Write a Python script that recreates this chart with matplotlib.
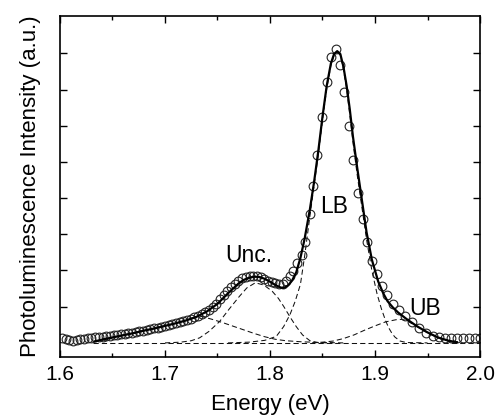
import numpy as np
import matplotlib
matplotlib.use('Agg')
import matplotlib.pyplot as plt
from matplotlib.ticker import MultipleLocator

plt.rcParams['font.family'] = ['Liberation Sans', 'DejaVu Sans']

# measured PL spectrum (open circles)
pl_energy = [1.6020, 1.6055, 1.6090, 1.6125, 1.6160, 1.6195, 1.6230, 1.6265, 1.6300, 1.6335,
             1.6370, 1.6405, 1.6440, 1.6475, 1.6510, 1.6545, 1.6580, 1.6615, 1.6650, 1.6685,
             1.6720, 1.6755, 1.6790, 1.6825, 1.6860, 1.6895, 1.6930, 1.6965, 1.7000, 1.7035,
             1.7070, 1.7105, 1.7140, 1.7175, 1.7210, 1.7245, 1.7280, 1.7315, 1.7350, 1.7385,
             1.7420, 1.7455, 1.7490, 1.7525, 1.7560, 1.7595, 1.7630, 1.7665, 1.7700, 1.7735,
             1.7770, 1.7805, 1.7840, 1.7875, 1.7910, 1.7945, 1.7980, 1.8015, 1.8050, 1.8085,
             1.8120, 1.8155, 1.8190,
             1.8222, 1.8257, 1.8302, 1.8333, 1.8381, 1.8412, 1.8450, 1.8492, 1.8540, 1.8578, 1.8626,
             1.8667, 1.8708, 1.8752, 1.8793, 1.8838, 1.8886, 1.8924, 1.8971, 1.9019, 1.9067, 1.9114,
             1.9171, 1.9229, 1.9286, 1.9352, 1.9419, 1.9486, 1.9552, 1.9610, 1.9667, 1.9724,
             1.9781, 1.9838, 1.9895, 1.9952, 2.0000]
pl_intensity = [0.14, 0.12, 0.07, 0.04, 0.07, 0.10, 0.12, 0.13, 0.14, 0.15,
                0.16, 0.17, 0.19, 0.20, 0.21, 0.22, 0.24, 0.25, 0.27, 0.28,
                0.30, 0.32, 0.34, 0.36, 0.38, 0.40, 0.42, 0.45, 0.47, 0.50,
                0.52, 0.55, 0.58, 0.61, 0.64, 0.67, 0.71, 0.75, 0.80, 0.86,
                0.92, 1.00, 1.08, 1.20, 1.32, 1.44, 1.55, 1.64, 1.72, 1.78,
                1.82, 1.85, 1.86, 1.86, 1.83, 1.77, 1.72, 1.69, 1.66, 1.63,
                1.62, 1.70, 1.84,
                1.98, 2.22, 2.44, 2.80, 3.56, 4.34, 5.19, 6.24, 7.21, 7.91, 8.12,
                7.69, 6.94, 5.99, 5.06, 4.14, 3.42, 2.78, 2.25, 1.89, 1.58, 1.31,
                1.08, 0.90, 0.74, 0.57, 0.42, 0.28, 0.19, 0.15, 0.14, 0.14,
                0.14, 0.14, 0.14, 0.14, 0.14]

# total fit (solid)
fit_energy = [1.633, 1.640, 1.650, 1.660, 1.670, 1.680, 1.690, 1.700, 1.710, 1.720,
              1.730, 1.740, 1.750, 1.760, 1.770, 1.775, 1.780, 1.785, 1.790, 1.795,
              1.800, 1.805, 1.810, 1.813, 1.817, 1.821, 1.825, 1.829, 1.833, 1.838,
              1.842, 1.846, 1.850, 1.854, 1.858, 1.861, 1.864, 1.867, 1.870, 1.873,
              1.876, 1.879, 1.883, 1.887, 1.892, 1.897, 1.903, 1.908, 1.912, 1.917,
              1.922, 1.930, 1.940, 1.950, 1.960, 1.970, 1.978]
fit_intensity = [0.04, 0.09, 0.15, 0.21, 0.27, 0.34, 0.40, 0.47, 0.54, 0.62,
                 0.72, 0.87, 1.08, 1.37, 1.64, 1.74, 1.80, 1.83, 1.82, 1.77,
                 1.69, 1.60, 1.53, 1.52, 1.58, 1.72, 1.95, 2.35, 2.88, 3.69,
                 4.45, 5.30, 6.25, 7.10, 7.72, 7.98, 8.06, 7.98, 7.62, 7.10,
                 6.45, 5.70, 4.85, 4.05, 3.05, 2.30, 1.70, 1.36, 1.15, 0.98,
                 0.84, 0.66, 0.46, 0.29, 0.15, 0.06, 0.02]

# fit components (dashed)
tail_energy = [1.633, 1.650, 1.670, 1.690, 1.710, 1.720, 1.728, 1.735, 1.745, 1.755,
               1.765, 1.775, 1.785, 1.795, 1.805, 1.815, 1.830, 1.850, 1.870]
tail_intensity = [0.04, 0.15, 0.27, 0.40, 0.54, 0.62, 0.70, 0.73, 0.65, 0.56,
                  0.46, 0.36, 0.26, 0.17, 0.10, 0.06, 0.03, 0.01, 0.0]

unc_energy = [1.700, 1.715, 1.725, 1.733, 1.742, 1.752, 1.761, 1.771, 1.778, 1.786,
              1.794, 1.802, 1.808, 1.813, 1.819, 1.825, 1.831, 1.838, 1.845, 1.860]
unc_intensity = [0.0, 0.02, 0.06, 0.14, 0.32, 0.59, 0.93, 1.29, 1.52, 1.66,
                 1.60, 1.43, 1.23, 1.01, 0.72, 0.45, 0.22, 0.06, 0.01, 0.0]

lb_energy = [1.760, 1.780, 1.795, 1.806, 1.813, 1.819, 1.824, 1.829, 1.833, 1.838,
             1.842, 1.846, 1.850, 1.854, 1.858, 1.861, 1.864, 1.867, 1.870, 1.873,
             1.876, 1.879, 1.883, 1.887, 1.892, 1.897, 1.902, 1.906, 1.910, 1.913,
             1.916, 1.919, 1.924, 1.930, 1.950]
lb_intensity = [0.0, 0.02, 0.07, 0.18, 0.45, 0.78, 1.15, 1.62, 2.40, 3.50,
                4.35, 5.20, 6.15, 7.02, 7.66, 7.94, 8.02, 7.95, 7.55, 7.00,
                6.30, 5.55, 4.65, 3.85, 2.85, 2.00, 1.35, 0.95, 0.62, 0.42,
                0.27, 0.16, 0.05, 0.01, 0.0]

ub_energy = [1.840, 1.850, 1.860, 1.870, 1.880, 1.890, 1.900, 1.910, 1.920, 1.925,
             1.930, 1.940, 1.950, 1.960, 1.970, 1.980]
ub_intensity = [0.0, 0.02, 0.05, 0.12, 0.22, 0.35, 0.47, 0.58, 0.64, 0.65,
                0.62, 0.45, 0.28, 0.14, 0.05, 0.01]

base_energy = [1.631, 2.0]
base_intensity = [0.0, 0.0]

labels = ['Unc.', 'LB', 'UB']
label_energy = [1.7795, 1.861, 1.9476]
label_intensity = [2.42, 3.76, 0.94]


fig = plt.figure(figsize=(4.97, 4.16), dpi=100)
ax = fig.add_axes([0.1207, 0.1418, 0.8451, 0.8197])

dash = dict(color='#111111', lw=0.75, dashes=(5, 3))
ax.plot(base_energy, base_intensity, **dash)
ax.plot(tail_energy, tail_intensity, **dash)
ax.plot(unc_energy, unc_intensity, **dash)
ax.plot(lb_energy, lb_intensity, **dash)
ax.plot(ub_energy, ub_intensity, **dash)

ax.plot(pl_energy, pl_intensity, 'o', mfc='none', mec='#222222', mew=0.8, ms=6.3)
ax.plot(fit_energy, fit_intensity, color='black', lw=1.6)

for t, x, y in zip(labels, label_energy, label_intensity):
	ax.text(x, y, t, ha='center', va='center', fontsize=16.5)

ax.set_xlim(1.6, 2.0)
ax.set_ylim(-0.39, 9.03)
ax.xaxis.set_major_locator(MultipleLocator(0.1))
ax.xaxis.set_minor_locator(MultipleLocator(0.05))
ax.set_yticks([1, 2, 3, 4, 5, 6, 7, 8])
ax.set_yticklabels([])
ax.xaxis.set_major_formatter(matplotlib.ticker.FormatStrFormatter('%.1f'))
ax.tick_params(which='both', direction='in', top=True, right=True, width=1.0, labelsize=15, pad=6)
ax.tick_params(which='major', length=5)
ax.tick_params(which='minor', length=3.2)
for s in ax.spines.values():
	s.set_linewidth(1.2)

ax.set_xlabel('Energy (eV)', fontsize=16, labelpad=7)
ax.set_ylabel('Photoluminescence Intensity (a.u.)', fontsize=16, labelpad=8)

fig.savefig('out.png', dpi=100)
